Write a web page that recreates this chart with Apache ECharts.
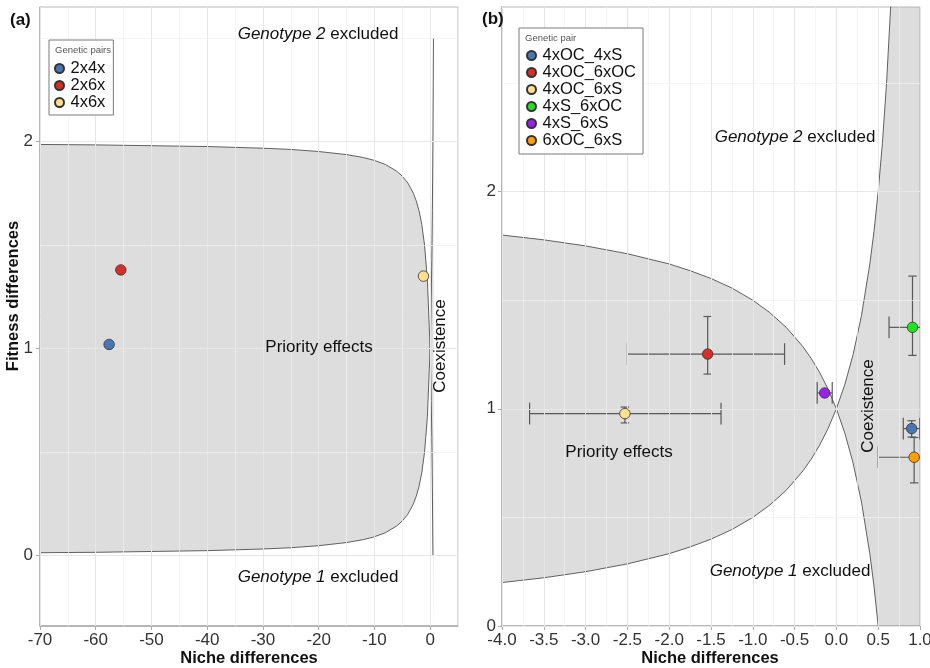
<!DOCTYPE html>
<html><head><meta charset="utf-8">
<script src="https://cdn.jsdelivr.net/npm/echarts@6/dist/echarts.min.js"></script>
<style>html,body{margin:0;padding:0;background:#fff}#chart{width:930px;height:668px}</style>
</head><body><div id="chart"></div>
<script>
// ---------- Panel (a) data ----------
const pairsA = ['2x4x', '2x6x', '4x6x'];
const nicheA = [-57.6, -55.5, -1.2];
const fitnessA = [1.02, 1.38, 1.35];
const colorsA = ['#4a76b6', '#d62f27', '#fddf8e'];

// boundary curves of panel (a)
const curveNicheA = [-70, -60, -50, -40, -30, -25, -20, -15, -12, -10, -8, -6, -5, -4, -3, -2.5, -2, -1.5, -1, -0.5, 0, 0.1, 0.2, 0.3, 0.4, 0.5, 0.6];
const curveRiseA  = [0.014, 0.016, 0.020, 0.024, 0.032, 0.038, 0.048, 0.063, 0.077, 0.091, 0.111, 0.143, 0.167, 0.2, 0.25, 0.286, 0.333, 0.4, 0.5, 0.667, 1, 1.111, 1.25, 1.429, 1.667, 2, 2.5];
const curveFallA  = [1.986, 1.984, 1.980, 1.976, 1.968, 1.962, 1.952, 1.937, 1.923, 1.909, 1.889, 1.857, 1.833, 1.8, 1.75, 1.714, 1.667, 1.6, 1.5, 1.333, 1, 0.889, 0.75, 0.571, 0.333, 0, -0.5];

const xTicksA = [-70, -60, -50, -40, -30, -20, -10, 0];
const yTicksA = [0, 1, 2];
const xGridA = [-70, -65, -60, -55, -50, -45, -40, -35, -30, -25, -20, -15, -10, -5, 0, 5];
const yGridA = [0, 0.5, 1, 1.5, 2, 2.5];

// ---------- Panel (b) data ----------
const pairsB = ['4xOC_4xS', '4xOC_6xOC', '4xOC_6xS', '4xS_6xOC', '4xS_6xS', '6xOC_6xS'];
const nicheB    = [0.90, -1.54, -2.53, 0.91, -0.14, 0.93];
const fitnessB  = [0.909, 1.252, 0.978, 1.375, 1.073, 0.777];
const nicheLoB  = [0.80, -2.50, -3.67, 0.63, -0.23, 0.50];
const nicheHiB  = [0.998, -0.62, -1.38, 1.19, -0.05, 1.36];
const fitLoB    = [0.87, 1.16, 0.935, 1.246, 1.065, 0.659];
const fitHiB    = [0.945, 1.425, 1.008, 1.611, 1.081, 0.868];
const colorsB = ['#4a76b6', '#d62f27', '#fddf8e', '#22e022', '#9d1ff0', '#ffa000'];

const curveNicheB = [-4, -3.5, -3, -2.5, -2, -1.75, -1.5, -1.25, -1, -0.8, -0.6, -0.4, -0.3, -0.2, -0.1, 0, 0.1, 0.2, 0.3, 0.4, 0.45, 0.5, 0.55, 0.6, 0.65, 0.7, 0.8, 0.9, 1.0];
const curveRiseB  = [0.2, 0.222, 0.25, 0.286, 0.333, 0.364, 0.4, 0.444, 0.5, 0.556, 0.625, 0.714, 0.769, 0.833, 0.909, 1, 1.111, 1.25, 1.429, 1.667, 1.818, 2, 2.222, 2.5, 2.857, 3.333, 5, 10, 100];
const curveFallB  = [1.8, 1.778, 1.75, 1.714, 1.667, 1.636, 1.6, 1.556, 1.5, 1.444, 1.375, 1.286, 1.231, 1.167, 1.091, 1, 0.889, 0.75, 0.571, 0.333, 0.182, 0, -0.222, -0.5, -0.857, -1.333, -3, -8, -98];

const xTicksB = [-4, -3.5, -3, -2.5, -2, -1.5, -1, -0.5, 0, 0.5, 1];
const yTicksB = [0, 1, 2];
const xGridB = [-4, -3.75, -3.5, -3.25, -3, -2.75, -2.5, -2.25, -2, -1.75, -1.5, -1.25, -1, -0.75, -0.5, -0.25, 0, 0.25, 0.5, 0.75, 1];
const yGridB = [0, 0.5, 1, 1.5, 2, 2.5];

// ---------- build ----------
const FONT = '"Liberation Sans", Arial, sans-serif';
const chart = echarts.init(document.getElementById('chart'), null, {renderer: 'canvas'});

function gridLines(xs, ys, xMajorStep, yMajorStep) {
  const isMajor = (v, s) => Math.abs(v / s - Math.round(v / s)) < 1e-6;
  const d = [];
  xs.forEach(v => d.push({xAxis: v, lineStyle: {color: isMajor(v, xMajorStep) ? '#e6e6e6' : '#f0f0f0', width: isMajor(v, xMajorStep) ? 1 : 0.7, type: 'solid'}}));
  ys.forEach(v => d.push({yAxis: v, lineStyle: {color: isMajor(v, yMajorStep) ? '#e6e6e6' : '#f0f0f0', width: isMajor(v, yMajorStep) ? 1 : 0.7, type: 'solid'}}));
  return {silent: true, symbol: ['none', 'none'], label: {show: false}, animation: false, data: d};
}

// shaded region between the two boundary curves, drawn through the axis scales
function regionSeries(idx, nd, rise, fall, gl) {
  return {
    type: 'custom', xAxisIndex: idx, yAxisIndex: idx, silent: true, z: 2,
    data: [[nd[0], rise[0]]], encode: {x: 0, y: 1},
    markLine: gl,
    renderItem: function (params, api) {
      const cs = params.coordSys;
      const cl = p => [Math.min(Math.max(p[0], cs.x), cs.x + cs.width), Math.min(Math.max(p[1], cs.y), cs.y + cs.height)];
      const upper = nd.map((x, i) => cl(api.coord([x, Math.max(rise[i], fall[i])])));
      const lower = nd.map((x, i) => cl(api.coord([x, Math.min(rise[i], fall[i])]))).reverse();
      return {type: 'polygon', shape: {points: upper.concat(lower)},
              style: {fill: 'rgba(165,165,165,0.38)', stroke: null}};
    }
  };
}

function curveSeries(idx, nd, vals, minY) {
  const data = nd.map((x, i) => [x, vals[i]]).filter(p => p[1] >= minY);
  return {type: 'line', xAxisIndex: idx, yAxisIndex: idx, data, symbol: 'none', silent: true, z: 3,
          lineStyle: {color: '#505050', width: 0.9}};
}

function renderErr(params, api) {
  const cs = params.coordSys;
  const L = cs.x, R = cs.x + cs.width;
  const x = api.value(0), y = api.value(1);
  const c = api.coord([x, y]);
  const pl = api.coord([api.value(2), y]), pr = api.coord([api.value(3), y]);
  const pt = api.coord([x, api.value(5)]), pb = api.coord([x, api.value(4)]);
  const hh = Math.abs(api.coord([x, y + 0.05])[1] - c[1]);
  const hw = Math.abs(api.coord([x + 0.05, y])[0] - c[0]);
  const st = {stroke: '#595959', lineWidth: 1.2};
  const xl = Math.max(pl[0], L), xr = Math.min(pr[0], R);
  const ch = [
    {type: 'line', shape: {x1: xl, y1: c[1], x2: xr, y2: c[1]}, style: st},
    {type: 'line', shape: {x1: c[0], y1: pt[1], x2: c[0], y2: pb[1]}, style: st},
    {type: 'line', shape: {x1: c[0] - hw, y1: pt[1], x2: c[0] + hw, y2: pt[1]}, style: st},
    {type: 'line', shape: {x1: c[0] - hw, y1: pb[1], x2: c[0] + hw, y2: pb[1]}, style: st}
  ];
  if (pl[0] >= L) ch.push({type: 'line', shape: {x1: pl[0], y1: c[1] - hh, x2: pl[0], y2: c[1] + hh}, style: st});
  if (pr[0] <= R) ch.push({type: 'line', shape: {x1: pr[0], y1: c[1] - hh, x2: pr[0], y2: c[1] + hh}, style: st});
  return {type: 'group', children: ch};
}

const series = [];
series.push(regionSeries(0, curveNicheA, curveRiseA, curveFallA, gridLines(xGridA, yGridA, 10, 1)));
series.push(curveSeries(0, curveNicheA, curveRiseA, 0));
series.push(curveSeries(0, curveNicheA, curveFallA, 0));
series.push(regionSeries(1, curveNicheB, curveRiseB, curveFallB, gridLines(xGridB, yGridB, 0.5, 1)));
series.push(curveSeries(1, curveNicheB, curveRiseB, -100));
series.push(curveSeries(1, curveNicheB, curveFallB, -100));

series.push({type: 'custom', xAxisIndex: 1, yAxisIndex: 1, z: 4, silent: true,
  data: nicheB.map((x, i) => [x, fitnessB[i], nicheLoB[i], nicheHiB[i], fitLoB[i], fitHiB[i]]),
  encode: {x: 0, y: 1}, renderItem: renderErr});

pairsA.forEach((p, i) => series.push({type: 'scatter', name: p, xAxisIndex: 0, yAxisIndex: 0, z: 5,
  data: [[nicheA[i], fitnessA[i]]], symbolSize: 10.5,
  itemStyle: {color: colorsA[i], borderColor: '#333', borderWidth: 0.8, opacity: 1}}));
pairsB.forEach((p, i) => series.push({type: 'scatter', name: p, xAxisIndex: 1, yAxisIndex: 1, z: 5,
  data: [[nicheB[i], fitnessB[i]]], symbolSize: 10.5,
  itemStyle: {color: colorsB[i], borderColor: '#333', borderWidth: 0.8, opacity: 1}}));

const labelStyle = {color: '#333', fontSize: 17, fontFamily: FONT};
const axisLine = {show: true, onZero: false, lineStyle: {color: '#ababab', width: 1.5}};
const axisTick = (vals) => ({show: true, length: 4, lineStyle: {color: '#ababab', width: 1}, customValues: vals});

const legendCommon = {orient: 'vertical', itemGap: 0, itemWidth: 12, itemHeight: 9, icon: 'circle', symbolKeepAspect: true,
  borderColor: '#7a7a7a', borderWidth: 1, backgroundColor: '#fff', borderRadius: 0, z: 10,
  textStyle: {fontSize: 16.5, lineHeight: 16, color: '#111', fontFamily: FONT},
  selectedMode: false};

function txt(x, y, text, opt) {
  return Object.assign({type: 'text', x, y, z: 100, silent: true,
    style: Object.assign({text, fill: '#111', font: '17px ' + FONT, align: 'center', verticalAlign: 'middle'}, opt || {})});
}
const richItal = {i: {fontStyle: 'italic', fontSize: 17, fontFamily: FONT, fill: '#111'}};

const option = {
  animation: false,
  backgroundColor: '#fff',
  grid: [
    {left: 40, top: 7, width: 418, bottom: 42, show: true, borderColor: '#b8b8b8', borderWidth: 1, backgroundColor: 'transparent', containLabel: false, outerBoundsMode: 'none'},
    {left: 502, top: 7, width: 418, bottom: 42, show: true, borderColor: '#b8b8b8', borderWidth: 1, backgroundColor: 'transparent', containLabel: false, outerBoundsMode: 'none'}
  ],
  xAxis: [
    {type: 'value', gridIndex: 0, min: -70, max: 5, splitLine: {show: false}, axisLine, axisTick: axisTick(xTicksA),
     axisLabel: Object.assign({customValues: xTicksA, margin: 6}, labelStyle)},
    {type: 'value', gridIndex: 1, min: -4, max: 1, splitLine: {show: false}, axisLine, axisTick: axisTick(xTicksB),
     axisLabel: Object.assign({customValues: xTicksB, margin: 6, formatter: v => v.toFixed(1)}, labelStyle)}
  ],
  yAxis: [
    {type: 'value', gridIndex: 0, min: -0.34, max: 2.65, splitLine: {show: false}, axisLine, axisTick: axisTick(yTicksA),
     axisLabel: Object.assign({customValues: yTicksA, margin: 7}, labelStyle)},
    {type: 'value', gridIndex: 1, min: 0, max: 2.85, splitLine: {show: false}, axisLine, axisTick: axisTick(yTicksB),
     axisLabel: Object.assign({customValues: yTicksB, margin: 6}, labelStyle)}
  ],
  legend: [
    Object.assign({}, legendCommon, {data: pairsA, left: 49, top: 40, padding: [20, 8, 4, 5]}),
    Object.assign({}, legendCommon, {data: pairsB, left: 519, top: 28, padding: [19, 7, 5, 7]})
  ],
  graphic: [
    txt(10, 20, '(a)', {font: 'bold 17px ' + FONT, align: 'left'}),
    txt(482, 19, '(b)', {font: 'bold 17px ' + FONT, align: 'left'}),
    txt(55, 50, 'Genetic pairs', {font: '9.5px ' + FONT, fill: '#555', align: 'left'}),
    txt(525, 38, 'Genetic pair', {font: '9.5px ' + FONT, fill: '#555', align: 'left'}),
    txt(318, 34, '{i|Genotype 2} excluded', {rich: richItal}),
    txt(318, 577, '{i|Genotype 1} excluded', {rich: richItal}),
    txt(319, 347, 'Priority effects'),
    Object.assign(txt(440, 346, 'Coexistence'), {rotation: Math.PI / 2}),
    txt(795, 137, '{i|Genotype 2} excluded', {rich: richItal}),
    txt(790, 571, '{i|Genotype 1} excluded', {rich: richItal}),
    txt(619, 452, 'Priority effects'),
    Object.assign(txt(868, 406, 'Coexistence'), {rotation: Math.PI / 2}),
    txt(249, 658, 'Niche differences', {font: 'bold 16.5px ' + FONT}),
    txt(710, 658, 'Niche differences', {font: 'bold 16.5px ' + FONT}),
    Object.assign(txt(13, 296, 'Fitness differences', {font: 'bold 16.5px ' + FONT}), {rotation: Math.PI / 2})
  ],
  series
};
chart.setOption(option);
</script></body></html>
